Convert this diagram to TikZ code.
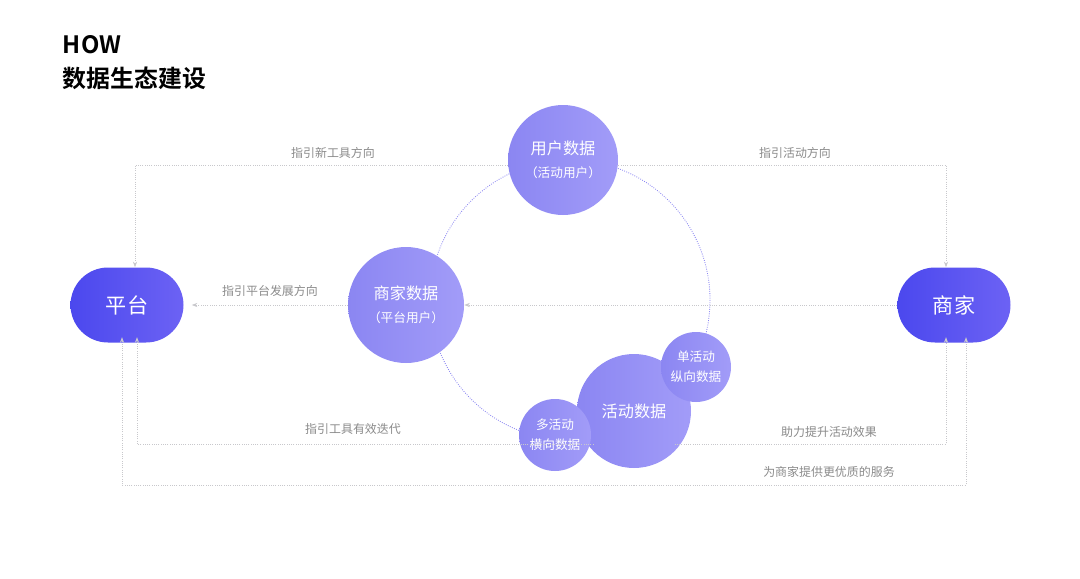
\documentclass[tikz,border=0pt]{standalone}
\usepackage{fontspec}
\setmainfont{Noto Sans CJK SC}
\newfontfamily\cjkb{Noto Sans CJK SC Bold}
\usetikzlibrary{arrows.meta}
\definecolor{pillA}{HTML}{4B48EE}
\definecolor{pillB}{HTML}{6C62F4}
\definecolor{bubA}{HTML}{8B86F2}
\definecolor{bubB}{HTML}{A29CF8}
\definecolor{linec}{HTML}{C8C8CC}
\definecolor{labc}{HTML}{8A8A8A}
\tikzset{
  pill/.style={rounded corners=37.5*0.025cm, minimum width=113*0.025cm, minimum height=75*0.025cm, left color=pillA, right color=pillB, text=white, font=\fontsize{15}{18}\selectfont},
  bub/.style={circle, left color=bubA, right color=bubB, text=white, inner sep=0pt, align=center, font=\fontsize{11.5}{18}\selectfont},
  flow/.style={draw=linec, densely dotted, line width=0.6pt, -{Stealth[length=4pt,width=3pt]}},
  lab/.style={text=labc, font=\fontsize{8.5}{10}\selectfont}
}
\begin{document}
\begin{tikzpicture}[x=0.025cm,y=-0.025cm]
\useasboundingbox (0,0) rectangle (1080,579);
\node[anchor=west,font=\cjkb\fontsize{17}{20}\selectfont] (how) at (58,45) {HOW};
\node[anchor=west,font=\cjkb\fontsize{17}{20}\selectfont] (title) at (58,78) {数据生态建设};
% big orbit
\draw[draw=bubA, densely dotted, line width=0.6pt] (570,300) circle (140);
\node[pill] (pt) at (127,305) {平台};
\node[pill] (sj) at (954,305) {商家};
\node[bub,minimum size=110*0.025cm] (yh) at (563,160) {用户数据\\[-2pt]{\fontsize{9}{11}\selectfont （活动用户）}};
\node[bub,minimum size=116*0.025cm] (sd) at (406,305) {商家数据\\[-2pt]{\fontsize{9}{11}\selectfont （平台用户）}};
\node[bub,minimum size=114*0.025cm] (hd) at (634,411) {活动数据};
\node[bub,minimum size=70*0.025cm,font=\fontsize{9}{14}\selectfont] (dan) at (696,367) {单活动\\纵向数据};
\node[bub,minimum size=72*0.025cm,font=\fontsize{9}{14}\selectfont] (duo) at (555,435) {多活动\\横向数据};
% corner coordinates
\coordinate (c1) at (135,165); \coordinate (c2) at (946,165);
\coordinate (c3) at (137,444); \coordinate (c4) at (946,444);
\coordinate (c5) at (122,485); \coordinate (c6) at (966,485);
\begin{scope}[on background layer/.style={}]
\draw[flow] (yh.west |- 0,165) -- (c1) -- (c1 |- pt.north);
\draw[flow] (yh.east |- 0,165) -- (c2) -- (c2 |- sj.north);
\draw[flow] (sj.west) -- (sd.east);
\draw[flow] (sd.west) -- ([xshift=8*0.025cm]pt.east);
\draw[flow] (hd.south west |- c3) -- (c3) -- ([yshift=4]c3 |- pt.south);
\draw[flow] (hd.south east |- c4) -- (c4) -- ([yshift=4]c4 |- sj.south);
\draw[flow] (c5 -| hd) -- (c5) -- ([yshift=4]c5 |- pt.south);
\draw[flow] (c5 -| hd) -- (c6) -- ([yshift=4]c6 |- sj.south);
\end{scope}
\node[lab] (l1) at (333,153) {指引新工具方向};
\node[lab] (l2) at (795,153) {指引活动方向};
\node[lab] (l3) at (270,291) {指引平台发展方向};
\node[lab] (l4) at (353,429) {指引工具有效迭代};
\node[lab] (l5) at (829,432) {助力提升活动效果};
\node[lab] (l6) at (829,472) {为商家提供更优质的服务};
\end{tikzpicture}
\end{document}
